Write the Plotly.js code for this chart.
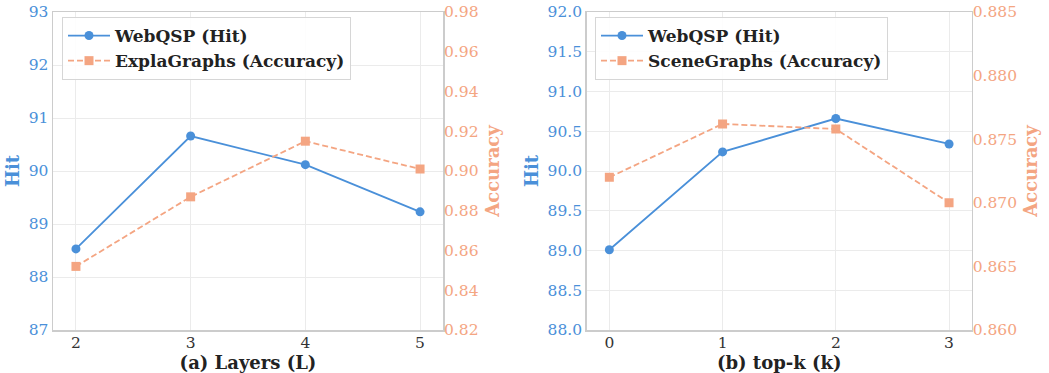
<!DOCTYPE html>
<html><head><meta charset="utf-8">
<script src="https://cdn.plot.ly/plotly-3.0.1.min.js"></script>
<style>html,body{margin:0;padding:0;background:#fff}#c{width:1049px;height:373px}</style>
</head><body><div id="c"></div>
<script>
const layers = [2, 3, 4, 5];
const layersHit = [88.53, 90.66, 90.12, 89.23];
const layersAcc = [0.852, 0.887, 0.915, 0.901];
const topk = [0, 1, 2, 3];
const topkHit = [89.01, 90.24, 90.66, 90.34];
const topkAcc = [0.872, 0.8762, 0.8758, 0.870];

const BLUE = '#4a90d9', ORANGE = '#f4a582', FONT = 'DejaVu Serif', FRAME = '#cccccc', GRID = '#ebebeb';
const lineBlue = {color: BLUE, width: 1.8};
const lineOr = {color: ORANGE, width: 1.8, dash: '6px,3px'};
const mBlue = {symbol: 'circle', size: 9, color: BLUE};
const mOr = {symbol: 'square', size: 9, color: ORANGE};

const traces = [
  {x: layers, y: layersHit, name: 'WebQSP (Hit)', mode: 'lines+markers', line: lineBlue, marker: mBlue, xaxis: 'x', yaxis: 'y', legend: 'legend'},
  {x: layers, y: layersAcc, name: 'ExplaGraphs (Accuracy)', mode: 'lines+markers', line: lineOr, marker: mOr, xaxis: 'x', yaxis: 'y2', legend: 'legend'},
  {x: topk, y: topkHit, name: 'WebQSP (Hit)', mode: 'lines+markers', line: lineBlue, marker: mBlue, xaxis: 'x2', yaxis: 'y3', legend: 'legend2'},
  {x: topk, y: topkAcc, name: 'SceneGraphs (Accuracy)', mode: 'lines+markers', line: lineOr, marker: mOr, xaxis: 'x2', yaxis: 'y4', legend: 'legend2'}
];

const W = 1049, H = 373;
const yDom = [1 - 330 / H, 1 - 12 / H];
const tickF = (c) => ({family: FONT, size: 15.5, color: c});
const titleF = (c) => ({family: FONT, size: 18, color: c, weight: 'bold'});
const xAx = (dom, range, anchor, title, ticks) => ({
  domain: dom, range: range, anchor: anchor, tickvals: ticks, ticktext: ticks.map(String),
  tickfont: tickF('#333333'), showline: true, linecolor: FRAME, linewidth: 1.5, mirror: true,
  showgrid: true, gridcolor: GRID, gridwidth: 1, zeroline: false, ticks: '', ticklen: 0,
  ticklabelstandoff: -2,
  title: {text: title, font: titleF('#222222'), standoff: 0}
});
const yLeft = (anchor, range, dtick, fmt) => ({
  domain: yDom, range: range, anchor: anchor, dtick: dtick, tick0: range[0], tickformat: fmt,
  tickfont: tickF(BLUE), showline: true, linecolor: FRAME, linewidth: 1.5, mirror: true,
  showgrid: true, gridcolor: GRID, zeroline: false, ticks: '',
  title: {text: 'Hit', font: titleF(BLUE), standoff: 4}
});
const yRight = (over, anchor, range, dtick, fmt) => ({
  overlaying: over, side: 'right', anchor: anchor, range: range, dtick: dtick, tick0: range[0], tickformat: fmt,
  tickfont: tickF(ORANGE), showline: false, showgrid: false, zeroline: false, ticks: '',
  title: {text: 'Accuracy', font: titleF(ORANGE), standoff: 8}
});
const legF = {family: FONT, size: 17, color: '#222222', weight: 'bold'};

const layout = {
  width: W, height: H, margin: {l: 0, r: 0, t: 0, b: 0},
  paper_bgcolor: '#ffffff', plot_bgcolor: '#ffffff', showlegend: true,
  xaxis: xAx([53 / W, 443 / W], [1.8, 5.2], 'y', '(a) Layers (L)', layers),
  yaxis: yLeft('x', [87, 93], 1, 'd'),
  yaxis2: yRight('y', 'x', [0.82, 0.98], 0.02, '.2f'),
  xaxis2: xAx([586.7 / W, 971.7 / W], [-0.2, 3.2], 'y3', '(b) top-k (k)', topk),
  yaxis3: yLeft('x2', [88, 92], 0.5, '.1f'),
  yaxis4: yRight('y3', 'x2', [0.86, 0.885], 0.005, '.3f'),
  legend: {x: 62 / W, y: 1 - 17 / H, xanchor: 'left', yanchor: 'top', bgcolor: 'rgba(255,255,255,0.9)',
    bordercolor: '#d6d6d6', borderwidth: 1, font: legF, itemwidth: 42, tracegroupgap: 0},
  legend2: {x: 595 / W, y: 1 - 17 / H, xanchor: 'left', yanchor: 'top', bgcolor: 'rgba(255,255,255,0.9)',
    bordercolor: '#d6d6d6', borderwidth: 1, font: legF, itemwidth: 42, tracegroupgap: 0}
};

Plotly.newPlot('c', traces, layout, {displayModeBar: false, staticPlot: true});
</script></body></html>
